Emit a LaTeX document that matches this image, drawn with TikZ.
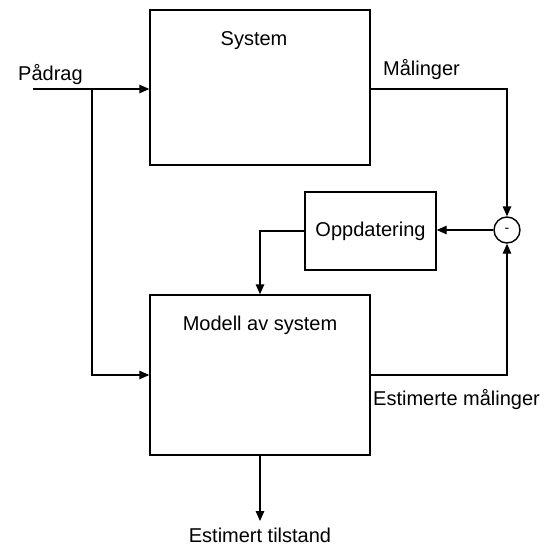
\documentclass[tikz,border=0pt]{standalone}
\usepackage{fontspec}
\setmainfont{Liberation Sans}
\usetikzlibrary{arrows.meta}
\tikzset{
  blokk/.style={draw, line width=1.4pt, inner sep=0pt},
  pil/.style={line width=1.4pt, -{Triangle[length=10pt,width=8.5pt]}},
  tekst/.style={inner sep=0pt},
}
\begin{document}
\begin{tikzpicture}[x=1pt,y=-1pt,font=\fontsize{20}{24}\selectfont]
\useasboundingbox (0,0) rectangle (545,547);
% system
\node[blokk, minimum width=220pt, minimum height=155pt] (sys) at (260,87.5) {};
\node[tekst, anchor=base] (systxt) at (254,45) {System};

% modell
\node[blokk, minimum width=220pt, minimum height=160pt] (mod) at (260,375) {};
\node[tekst, anchor=base] (modtxt) at (260,330) {Modell av system};

% oppdatering og sum
\node[blokk, minimum width=131pt, minimum height=78pt] (opp) at (370.5,231) {Oppdatering};
\node[draw, circle, line width=1.4pt, minimum size=26pt, inner sep=0pt, font=\fontsize{14}{16}\selectfont] (sum) at (507,230) {-};

% tekster
\node[tekst, anchor=base west] (padrag) at (18,80) {Pådrag};
\node[tekst, anchor=base west] (maal) at (383,75) {Målinger};
\node[tekst, anchor=base west] (estmaal) at (373,405) {Estimerte målinger};
\node[tekst, anchor=base] (esttil) at (260,542) {Estimert tilstand};

% koblinger
\coordinate (inn) at (33,89);
\coordinate (gren) at (92,89);
\coordinate (ut) at (260,521);
\draw[pil] (inn) -- (inn -| sys.west);
\draw[pil] (gren) |- (mod.west);
\draw[pil] (sys.east |- inn) -| (sum.north);
\draw[pil] (sum.west) -- (sum.west -| opp.east);
\draw[pil] (opp.west) -| (mod.north);
\draw[pil] (mod.east) -| (sum.south);
\draw[pil] (mod.south) -- (ut);
\end{tikzpicture}
\end{document}
